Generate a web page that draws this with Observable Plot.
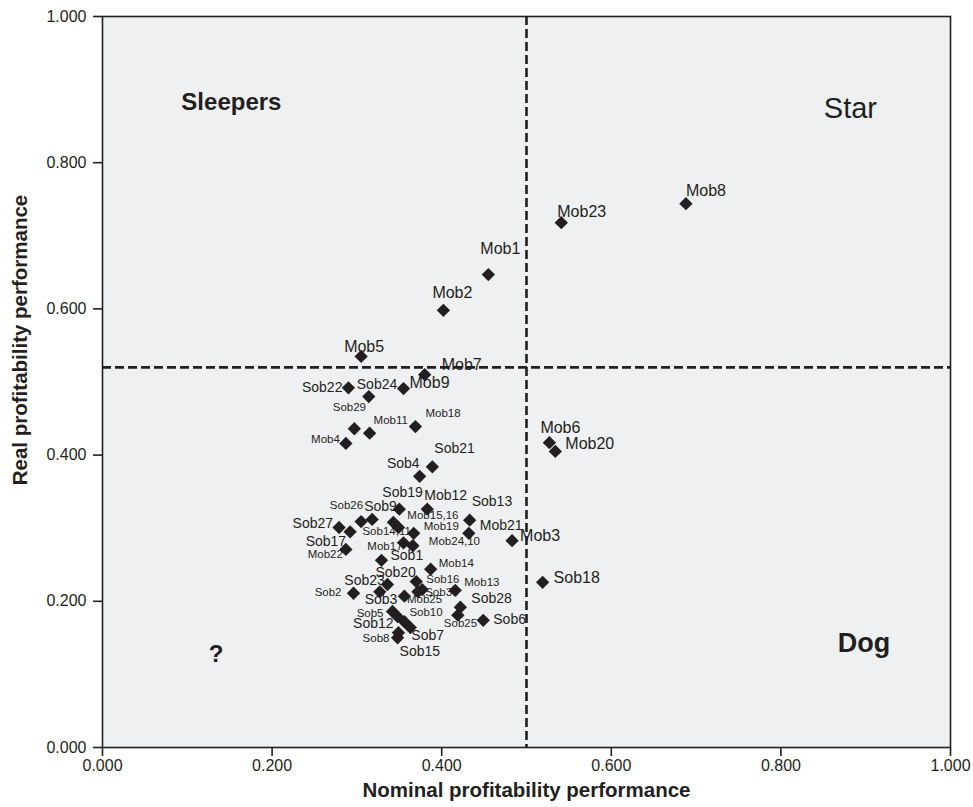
<!DOCTYPE html>
<html>
<head>
<meta charset="utf-8">
<script src="https://cdn.jsdelivr.net/npm/d3@7"></script>
<script src="https://cdn.jsdelivr.net/npm/@observablehq/plot@0.6"></script>
<style>
  html, body { margin: 0; padding: 0; background: #ffffff; }
  #chart svg { display: block; }
</style>
</head>
<body>
<div id="chart"></div>
<script>
// ---- Data ----
const names = ["Mob8","Mob23","Mob1","Mob2","Mob5","Mob7","Mob9","Sob22","Sob24","Sob29",
  "Mob11","Mob18","Mob4","Sob21","Sob4","Mob6","Mob20","Sob19","Mob12","Sob13",
  "Sob26","Sob9","Sob27","Sob17","Mob15,16","Sob14,11","Mob19","Mob17","Mob24,10","Mob21",
  "Mob3","Mob22","Sob1","Mob14","Sob20","Sob23","Sob2","Sob3","Sob16","Sob30",
  "Mob25","Mob13","Sob28","Sob25","Sob6","Sob5","Sob12","Sob10","Sob7","Sob8",
  "Sob15","Sob18"];
const nominal = [0.688,0.541,0.455,0.402,0.305,0.380,0.355,0.290,0.314,0.297,
  0.315,0.369,0.287,0.389,0.374,0.527,0.534,0.350,0.383,0.433,
  0.305,0.318,0.279,0.292,0.343,0.349,0.367,0.355,0.366,0.432,
  0.483,0.287,0.329,0.387,0.336,0.327,0.296,0.356,0.370,0.377,
  0.372,0.416,0.422,0.419,0.449,0.342,0.348,0.356,0.363,0.349,
  0.348,0.519];
const real = [0.744,0.718,0.647,0.598,0.535,0.510,0.491,0.492,0.480,0.436,
  0.430,0.439,0.416,0.384,0.371,0.417,0.405,0.326,0.326,0.311,
  0.309,0.312,0.301,0.295,0.308,0.301,0.293,0.280,0.276,0.293,
  0.283,0.271,0.256,0.244,0.223,0.213,0.211,0.207,0.227,0.216,
  0.213,0.215,0.192,0.181,0.174,0.186,0.179,0.172,0.164,0.157,
  0.150,0.226];
const nominalThreshold = [0.5];
const realThreshold = [0.52];
const tickValues = [0, 0.2, 0.4, 0.6, 0.8, 1.0];
const quadrantNames = ["Sleepers", "Star", "Dog", "?"];
const quadrantX = [0.152, 0.882, 0.898, 0.134];
const quadrantY = [0.882, 0.874, 0.142, 0.127];

// ---- Label layout (offsets in px, anchor) ----
const labelLayout = {
  "Mob8":[0,-13,"start"], "Mob23":[-4,-11,"start"], "Mob1":[-8,-26,"start"], "Mob2":[-11,-17,"start"],
  "Mob5":[-17,-10,"start"], "Mob7":[17,-10,"start"], "Mob9":[6,-6,"start"], "Sob22":[-6,0,"end"],
  "Sob24":[-12,-12,"start"], "Sob29":[-5,-21,"middle"], "Mob11":[4,-13,"start"], "Mob18":[10,-13,"start"],
  "Mob4":[-6,-4,"end"], "Sob21":[2,-18,"start"], "Sob4":[0,-13,"end"], "Mob6":[-9,-15,"start"],
  "Mob20":[10,-8,"start"], "Sob19":[-17,-17,"start"], "Mob12":[-3,-14,"start"], "Sob13":[2,-19,"start"],
  "Sob26":[2,-16,"end"], "Sob9":[-8,-13,"start"], "Sob27":[-6,-4,"end"], "Sob17":[-4,10,"end"],
  "Mob15,16":[14,-7,"start"], "Sob14,11":[-36,4,"start"], "Mob19":[10,-7,"start"], "Mob17":[-1,3,"end"],
  "Mob24,10":[16,-4,"start"], "Mob21":[11,-8,"start"], "Mob3":[8,-5,"start"], "Mob22":[-3,5,"end"],
  "Sob1":[9,-5,"start"], "Mob14":[8,-6,"start"], "Sob20":[-12,-12,"start"], "Sob23":[5,-11,"end"],
  "Sob2":[-12,-1,"end"], "Sob3":[-7,3,"end"], "Sob16":[10,-2,"start"], "Sob30":[3,3,"start"],
  "Mob25":[-11,8,"start"], "Mob13":[9,-8,"start"], "Sob28":[11,-9,"start"], "Sob25":[-14,8,"start"],
  "Sob6":[10,-1,"start"], "Sob5":[-9,2,"end"], "Sob12":[-4,7,"end"], "Sob10":[5,-9,"start"],
  "Sob7":[1,8,"start"], "Sob8":[-9,6,"end"], "Sob15":[2,14,"start"], "Sob18":[11,-4,"start"]
};
const bigLabels = new Set(["Mob8","Mob23","Mob1","Mob2","Mob5","Mob7","Mob9","Mob6","Mob20",
  "Mob3","Sob18"]);
const smallLabels = new Set(["Sob29","Mob11","Mob18","Mob4","Sob26","Mob15,16","Sob14,11","Mob19",
  "Mob17","Mob24,10","Mob22","Mob14","Sob2","Sob16","Sob30","Mob25","Mob13","Sob25","Sob5","Sob10","Sob8"]);

const points = names.map((n, i) => ({name: n, x: nominal[i], y: real[i]}));
const quadrants = quadrantNames.map((n, i) => ({name: n, x: quadrantX[i], y: quadrantY[i]}));

const ink = "#231f20";
const font = "'Liberation Sans', Arial, Helvetica, sans-serif";

const labelMarks = points.map(p => {
  const [dx, dy, anchor] = labelLayout[p.name];
  const size = bigLabels.has(p.name) ? 16 : smallLabels.has(p.name) ? 11.5 : 14;
  return Plot.text([p], {
    x: "x", y: "y", text: "name", dx, dy, textAnchor: anchor, fontSize: size, fill: ink
  });
});

const chart = Plot.plot({
  width: 973,
  height: 807,
  marginLeft: 102,
  marginRight: 23,
  marginTop: 16,
  marginBottom: 60,
  style: {fontFamily: font, background: "#ffffff", color: ink},
  x: {domain: [0, 1]},
  y: {domain: [0, 1]},
  marks: [
    Plot.frame({fill: "#eff0f2", stroke: "none"}),
    Plot.ruleX(nominalThreshold, {stroke: ink, strokeWidth: 2.6, strokeDasharray: "9,4"}),
    Plot.ruleY(realThreshold, {stroke: ink, strokeWidth: 2.6, strokeDasharray: "9,4"}),
    Plot.frame({stroke: ink, strokeWidth: 1.6}),
    Plot.axisX({ticks: tickValues, tickFormat: d3.format(".3f"), tickSize: 9, tickPadding: 3,
      fontSize: 16, label: null, stroke: ink, strokeWidth: 1.6, fill: ink}),
    Plot.axisY({ticks: tickValues, tickFormat: d3.format(".3f"), tickSize: 9, tickPadding: 7,
      fontSize: 16, label: null, stroke: ink, strokeWidth: 1.6, fill: ink}),
    Plot.text(["Nominal profitability performance"], {frameAnchor: "bottom", textAnchor: "middle",
      dy: 49, fontSize: 20.5, fontWeight: "bold", fill: ink}),
    Plot.text(["Real profitability performance"], {frameAnchor: "left", textAnchor: "middle",
      dx: -82, dy: -42, rotate: -90, fontSize: 20.5, fontWeight: "bold", fill: ink}),
    Plot.dot(points, {x: "x", y: "y", symbol: "diamond2", r: 6, fill: ink, stroke: "none"}),
    ...labelMarks,
    Plot.text(quadrants.filter(d => d.name === "Sleepers" || d.name === "?"), {x: "x", y: "y", text: "name",
      fontSize: 24, fontWeight: "bold", fill: ink}),
    Plot.text(quadrants.filter(d => d.name === "Dog"), {x: "x", y: "y", text: "name",
      fontSize: 27, fontWeight: "bold", fill: ink}),
    Plot.text(quadrants.filter(d => d.name === "Star"), {x: "x", y: "y", text: "name",
      fontSize: 29, fill: ink})
  ]
});
document.getElementById("chart").appendChild(chart);
</script>
</body>
</html>
